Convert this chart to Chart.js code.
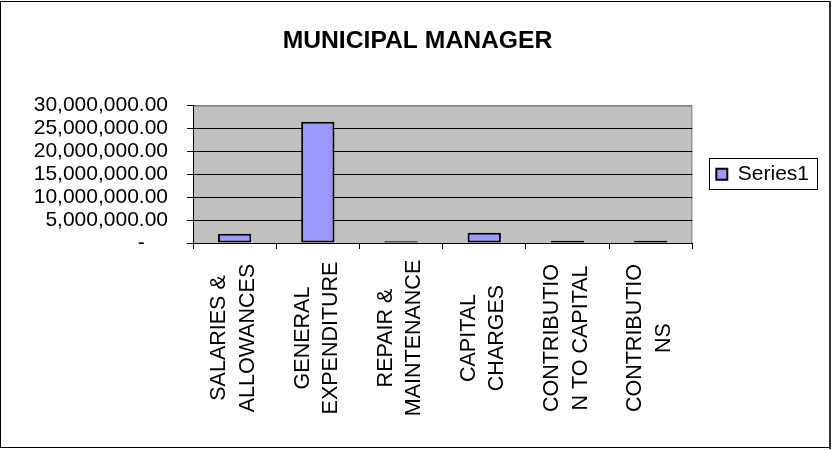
<!DOCTYPE html>
<html>
<head>
<meta charset="utf-8">
<title>Municipal Manager</title>
<script src="https://cdn.jsdelivr.net/npm/chart.js@4.4.1/dist/chart.umd.min.js"></script>
<style>
  body { margin: 0; background: #fff; }
  canvas { display: block; }
</style>
</head>
<body>
<canvas id="chartResult" width="832" height="450"></canvas>

<script type="text/javascript">
var categories = [
    ['SALARIES &', 'ALLOWANCES'],
    ['GENERAL', 'EXPENDITURE'],
    ['REPAIR &', 'MAINTENANCE'],
    ['CAPITAL', 'CHARGES'],
    ['CONTRIBUTIO', 'N TO CAPITAL'],
    ['CONTRIBUTIO', 'NS']
];
var series1 = [2000000, 26500000, 380000, 2250000, 480000, 480000];
var yTicks = [0, 5000000, 10000000, 15000000, 20000000, 25000000, 30000000];

var FONT = "'Liberation Sans', Arial, sans-serif";

function money(v) {
    if (v === 0) return '-    ';
    return v.toLocaleString('en-US', {minimumFractionDigits: 2, maximumFractionDigits: 2});
}

// grey plot area, its border, the outer frame and the legend box (Excel look)
var excelLook = {
    id: 'excelLook',
    beforeDraw: function(chart) {
        var a = chart.chartArea, ctx = chart.ctx;
        ctx.save();
        ctx.fillStyle = '#c0c0c0';
        ctx.fillRect(a.left, a.top, a.right - a.left, a.bottom - a.top);
        ctx.strokeStyle = '#808080';
        ctx.lineWidth = 1;
        ctx.beginPath();
        ctx.moveTo(a.left, a.top + 0.5);
        ctx.lineTo(a.right - 0.5, a.top + 0.5);
        ctx.lineTo(a.right - 0.5, a.bottom);
        ctx.stroke();
        ctx.restore();

        // centre the two-line rotated labels under each category
        var x = chart.scales.x;
        x.getLabelItems().forEach(function(item, i) {
            var n = Array.isArray(item.label) ? item.label.length : 1;
            var lh = item.font.lineHeight;
            item.options.textAlign = 'center';
            item.options.textBaseline = 'middle';
            item.options.translation = [x.getPixelForTick(i) - 1, 338];
            item.textOffset = -(n - 1) * lh / 2;
        });
    },
    afterDraw: function(chart) {
        var ctx = chart.ctx;
        ctx.save();
        ctx.strokeStyle = '#000';
        ctx.lineWidth = 1;
        ctx.strokeRect(0.5, 1.5, 829, 446);
        ctx.fillStyle = '#333';
        ctx.fillRect(829, 1, 2, 448);
        var hb = chart.legend.legendHitBoxes[0];
        if (hb) {
            ctx.strokeRect(Math.round(hb.left) - 6.5, Math.round(hb.top + hb.height / 2) - 15.5,
                Math.round(hb.width) + 15, 31);
        }
        ctx.restore();
    }
};

var ctx = document.getElementById('chartResult');
var myChart = new Chart(ctx, {
    type: 'bar',
    data: {
        labels: categories,
        datasets: [{
            label: 'Series1',
            data: series1,
            backgroundColor: '#9999ff',
            borderColor: '#000000',
            borderWidth: 2,
            borderSkipped: false,
            barPercentage: 1,
            categoryPercentage: 0.4
        }]
    },
    options: {
        responsive: false,
        animation: false,
        devicePixelRatio: 1,
        layout: {
            padding: {left: 16, right: 13, top: 0, bottom: 0}
        },
        plugins: {
            title: {
                display: true,
                text: 'MUNICIPAL MANAGER',
                color: '#000',
                font: {family: FONT, size: 24.7, weight: 'bold', lineHeight: 1.2},
                padding: {top: 26, bottom: 50}
            },
            legend: {
                position: 'right',
                fullSize: false,
                labels: {
                    color: '#000',
                    font: {family: FONT, size: 21},
                    boxWidth: 11,
                    boxHeight: 11,
                    padding: 24
                }
            },
            tooltip: {enabled: false}
        },
        scales: {
            x: {
                grid: {
                    drawOnChartArea: false,
                    tickLength: 6,
                    tickColor: '#000'
                },
                border: {color: '#000', width: 1},
                ticks: {
                    autoSkip: false,
                    maxRotation: 90,
                    minRotation: 90,
                    color: '#000',
                    font: {family: FONT, size: 21.5, lineHeight: 1.32}
                },
                afterFit: function(scale) {
                    scale.height = 207;
                }
            },
            y: {
                min: 0,
                max: 30000000,
                grid: {
                    color: function(c) {
                        return c.tick && c.tick.value === 30000000 ? '#808080' : '#000';
                    },
                    lineWidth: 1,
                    tickLength: 6,
                    tickColor: '#000'
                },
                border: {color: '#000', width: 1},
                ticks: {
                    autoSkip: false,
                    color: '#000',
                    padding: 19,
                    font: {family: FONT, size: 21, lineHeight: 1},
                    callback: function(v) { return money(v); }
                },
                afterBuildTicks: function(scale) {
                    scale.ticks = yTicks.map(function(v) { return {value: v}; });
                },
                afterFit: function(scale) {
                    scale.width = 177;
                }
            }
        }
    },
    plugins: [excelLook]
});
</script>
</body>
</html>
